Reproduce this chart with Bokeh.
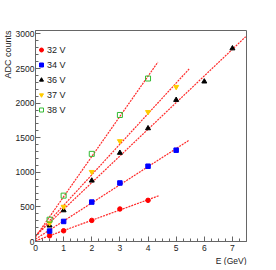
import numpy as np
from bokeh.plotting import figure
from bokeh.models import (Range1d, SingleIntervalTicker, Title, Legend, LegendItem)
from bokeh.embed import file_html
from bokeh.resources import INLINE

# ---- data ----
series_names = ["32 V", "34 V", "36 V", "37 V", "38 V"]

e_32 = [0.5, 1, 2, 3, 4]
adc_32 = [83, 155, 305, 470, 595]

e_34 = [0.5, 1, 2, 3, 4, 5]
adc_34 = [150, 290, 570, 846, 1088, 1320]

e_36 = [0.5, 1, 2, 3, 4, 5, 6, 7]
adc_36 = [230, 450, 880, 1281, 1636, 2046, 2312, 2791]

e_37 = [0.5, 1, 2, 3, 4, 5]
adc_37 = [265, 503, 1006, 1451, 1872, 2235]

e_38 = [0.5, 1, 2, 3, 4]
adc_38 = [315, 663, 1267, 1829, 2356]

fit_end = [4.38, 5.46, 7.47, 5.46, 4.35]

FONT = "Liberation Sans"
AX = "#666666"

p = figure(width=268, height=265, output_backend="svg", toolbar_location=None,
           x_range=Range1d(0, 7.5), y_range=Range1d(0, 3050),
           min_border_left=30, min_border_right=22, min_border_top=30,
           min_border_bottom=22)
p.xgrid.visible = False
p.ygrid.visible = False
p.outline_line_color = AX
p.outline_line_width = 1
p.background_fill_color = "white"

p.xaxis.ticker = SingleIntervalTicker(interval=1, num_minor_ticks=4)
p.yaxis.ticker = SingleIntervalTicker(interval=500, num_minor_ticks=5)
for ax in (p.xaxis[0], p.yaxis[0]):
    ax.axis_line_color = AX
    ax.major_tick_line_color = AX
    ax.minor_tick_line_color = AX
    ax.major_tick_in = 5
    ax.major_tick_out = 0
    ax.minor_tick_in = 3
    ax.minor_tick_out = 0
    ax.major_label_text_font = FONT
    ax.major_label_text_font_size = "8.5px"
    ax.major_label_text_color = "#222222"
p.xaxis.major_label_standoff = 3
p.yaxis.major_label_standoff = 1

all_e = [e_32, e_34, e_36, e_37, e_38]
all_adc = [adc_32, adc_34, adc_36, adc_37, adc_38]

# fit lines
for e, a, xe in zip(all_e, all_adc, fit_end):
    k, b = np.polyfit(e, a, 1)
    xs = [0.0, xe]
    ys = [b + k * x for x in xs]
    p.line(xs, ys, line_color="#ff2a2a", line_width=1.2, line_dash="2 1")

r32 = p.scatter(e_32, adc_32, marker="circle", size=4.5, fill_color="#ff0000", line_color="#ff0000")
r34 = p.scatter(e_34, adc_34, marker="square", size=4.5, fill_color="#0000ff", line_color="#0000ff")
r36 = p.scatter(e_36, adc_36, marker="triangle", size=5, fill_color="#000000", line_color="#000000")
r37 = p.scatter(e_37, adc_37, marker="inverted_triangle", size=5, fill_color="#ffcc00", line_color="#ffcc00")
r38 = p.scatter(e_38, adc_38, marker="square", size=5, fill_color=None, line_color="#33bb33", line_width=1)

items = [LegendItem(label=n, renderers=[r]) for n, r in zip(series_names, [r32, r34, r36, r37, r38])]
leg = Legend(items=items, location=(1, 126), orientation="vertical",
             glyph_width=10, glyph_height=11, label_height=11, spacing=4,
             padding=0, margin=0, label_standoff=1,
             label_text_font=FONT, label_text_font_size="9px",
             label_text_color="#222222",
             border_line_color=None, background_fill_alpha=0)
p.add_layout(leg, "center")

p.add_layout(Title(text="E (GeV)", align="right", text_font=FONT,
                   text_font_size="8.5px", text_font_style="normal",
                   text_color="#222222", standoff=0), "below")
p.add_layout(Title(text="ADC counts", align="right", text_font=FONT,
                   text_font_size="9px", text_font_style="normal",
                   text_color="#222222", standoff=0), "left")

open("out.html", "w").write(file_html(p, INLINE))
